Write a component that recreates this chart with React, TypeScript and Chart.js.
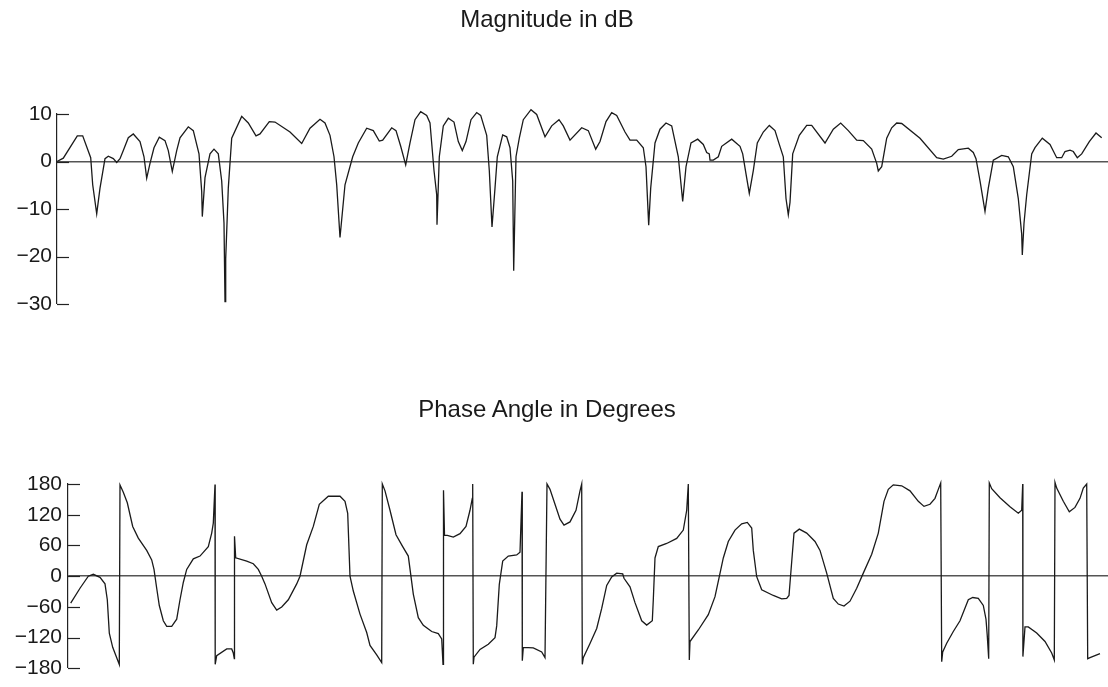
import React, { useEffect, useRef } from "react";
import { Chart, registerables } from "chart.js";

Chart.register(...registerables);

// Magnitude panel: frequency bin and level in dB
const magFreq = [
  0, 6.3, 20.3, 25.7, 33.7, 35.7, 39.7, 43, 48, 51.3, 56.3, 59.7, 63, 66.3, 71.3, 76.3, 83, 87, 89.7, 93,
  97, 102.3, 108, 111.3, 115.3, 119.7, 123, 131.3, 136.3, 142, 144.7, 145.3, 148, 153, 157, 161.3, 164.7, 167, 168, 168.7,
  171.3, 174.7, 184.7, 191.3, 199, 203, 212.3, 218, 233, 244.7, 253, 263, 268, 273, 277, 279.7, 283, 288, 295.7, 301.3,
  309.7, 316.3, 322.3, 325.7, 334.7, 339, 343.7, 348.7, 353, 358, 363.7, 369.7, 373, 377, 379.7, 380, 382.3, 386.3, 391.3, 397,
  401.3, 405.3, 409, 414, 419.7, 423.7, 429.7, 432.3, 435, 438, 440.3, 445.7, 449.7, 453, 455.7, 456.7, 459, 462.3, 466.3, 474,
  479.7, 488, 494.7, 502, 506.3, 513, 524.7, 531.3, 538.7, 543, 549, 554.7, 559.7, 568, 573, 579.7, 586.3, 589, 591.7, 593.7,
  598, 603, 609, 614.7, 621.3, 625.7, 629, 634, 640.7, 646.3, 649.7, 652.3, 653, 656.3, 661.3, 664.7, 674.7, 683, 685.7, 689,
  692.3, 696.3, 700.3, 706.3, 712.3, 718, 722.3, 726.3, 729, 731.3, 733, 735.7, 742.3, 749.7, 754.7, 768, 776.3, 783.7, 791.3, 799.7,
  806.3, 814.7, 819.7, 821.3, 824.7, 829.7, 834.7, 839.7, 844.7, 863, 879.7, 886.3, 894.7, 901.3, 911.3, 916.3, 919, 923, 928, 931.3,
  936.3, 944.7, 951.3, 956.3, 961.3, 964.7, 965.3, 967, 969.7, 974.7, 978, 985.3, 993, 999.7, 1004.7, 1008, 1013, 1016.3, 1020.3, 1024.7,
  1032.3, 1039, 1044.7,
];
const magDb = [
  0, 0.7, 5.4, 5.4, 0.8, -4.9, -11, -5.6, 0.6, 1.1, 0.6, -0.2, 0.6, 2.3, 5, 5.8, 4.2, 1, -3.5, -0.4,
  2.9, 5.1, 4.4, 2.3, -2.1, 2.3, 5, 7.3, 6.5, 1.6, -6.3, -11.6, -3.4, 1.6, 2.6, 1.6, -4.1, -13, -29.5, -20.5,
  -5.6, 4.9, 9.5, 8.1, 5.4, 5.8, 8.4, 8.3, 6.2, 3.8, 7, 8.9, 8.1, 5.5, 1, -4.9, -16, -4.9, 1, 3.9,
  7, 6.5, 4.3, 4.5, 7.1, 6.5, 3.2, -0.7, 3.9, 8.8, 10.5, 9.7, 8.1, -1.9, -7, -13.3, 1, 7.5, 9.1, 8.3,
  4.2, 2.3, 4.2, 8.8, 10.3, 9.7, 5.5, -1.9, -13.8, -5.6, 1, 5.6, 5.2, 2.9, -4.1, -23, 1, 4.9, 8.8, 10.9,
  9.9, 5.2, 7.5, 8.8, 7.5, 4.5, 7.1, 6.5, 2.6, 4.2, 8.4, 10.3, 9.7, 6.2, 4.5, 4.5, 2.9, -1.1, -13.4, -5.6,
  3.9, 6.8, 8.1, 7.5, 1, -8.4, -1.1, 3.9, 4.7, 3.6, 1.9, 1.6, 0.3, 0.3, 1, 3.2, 4.7, 3.2, 1.6, -2.6,
  -6.7, -1.9, 3.9, 6.2, 7.6, 6.5, 3.6, 1, -7.8, -11.2, -8.6, 1.6, 5.5, 7.6, 7.6, 3.9, 6.8, 8.1, 6.5, 4.5,
  4.4, 2.6, -0.4, -2, -1.1, 4.9, 7.1, 8.1, 8, 4.9, 0.8, 0.5, 1.1, 2.5, 2.8, 1.9, 0.6, -4.1, -10.5, -5.6,
  0.3, 1.3, 1, -1.1, -7.8, -15.3, -19.7, -13, -7, 1.6, 2.9, 4.9, 3.6, 0.8, 0.8, 2.1, 2.4, 2.1, 0.8, 1.6,
  4.2, 6, 5,
];
const magTicks = [10, 0, -10, -20, -30];

// Phase panel: frequency bin and phase angle in degrees
const phaseFreq = [
  2.7, 12, 20.3, 25.3, 32, 37, 39.3, 41.3, 44.7, 51.3, 52, 55.3, 59.3, 64.7, 70.3, 78.7, 83.7, 86, 88.7, 91.3,
  95.3, 98.7, 103.7, 108.7, 112, 115.3, 118.7, 125.3, 132, 140.3, 143.7, 145.3, 147, 147.2, 148.7, 158.7, 163.7, 165.3, 166.3, 166.5,
  167.7, 178.7, 185.3, 190.3, 193.7, 197, 203.7, 208.7, 213.7, 220.3, 228.7, 232, 238.7, 245.3, 251.3, 260.3, 272, 277, 279.7, 282,
  285.3, 292, 298.7, 302, 308.7, 313.7, 314.3, 317, 322, 328, 334.7, 340.3, 345.3, 350.3, 355.3, 363.7, 370.3, 373.7, 375, 375.5,
  376.5, 379.3, 385.3, 392, 398, 402, 404.3, 404.7, 405.3, 406, 412, 420.3, 427, 428.7, 431.3, 434.7, 440.3, 448.7, 452, 454,
  454.3, 455.3, 465.3, 473.7, 477, 479, 482, 487, 492, 496, 502, 508, 512, 513.7, 514.3, 515.3, 522, 528.7, 533.7, 538.7,
  543.7, 548.7, 554.7, 556, 562, 567, 573.7, 578.7, 584.3, 585.3, 587, 590.3, 598.7, 608.7, 615.3, 618.7, 620.3, 621.3, 622, 630.3,
  640.3, 647, 651.3, 655.3, 660.3, 667, 673.7, 679.3, 683.7, 685.3, 688.7, 693.7, 705.3, 713.7, 718.7, 721, 723.7, 726, 731.3, 738.7,
  747, 752, 758.7, 765.3, 770.3, 776, 782, 788.7, 795.3, 803.7, 810.3, 816, 820.3, 825.3, 833.7, 842, 850.3, 856, 862, 867,
  870.3, 872.7, 873.7, 874.7, 878.7, 885.3, 892, 900.3, 904.7, 910.3, 915.3, 918, 919.3, 920.7, 921.3, 923.7, 932, 942, 950.3, 953.7,
  954.7, 954.9, 957, 960.3, 968.7, 977, 983.7, 986.3, 987, 988.7, 995.3, 1001.3, 1007, 1012, 1015.3, 1018.7, 1019.7, 1022, 1032,
];
const phaseDeg = [
  -52.7, -23.5, 0, 3.7, -2.2, -15, -46, -111, -138.8, -172.5, 178, 163.7, 143.3, 97.2, 74.3, 50.4, 31.9, 13.3, -23.5, -57.2,
  -87, -97.8, -97.8, -84, -46, -12.3, 13.3, 34, 39.3, 57.8, 84.1, 103.7, 179, -172, -155, -142, -142, -150, -161, 78,
  36, 29.6, 24.4, 13.3, 0, -15, -51.6, -66, -60, -46, -15, 0, 61.3, 97.2, 140.4, 156.1, 156.1, 146.2, 122.9, 0,
  -29, -74, -110, -135, -153.8, -168.8, 180, 166.6, 128.7, 80.9, 57.8, 39.3, -34.8, -81, -96, -108, -112.2, -122.3, -172, 168,
  80, 79.6, 76.4, 83, 97.2, 128.7, 152, 180, -172, -158, -143, -133, -120, -97, -16, 29.6, 39.3, 41.5, 46.7, 165,
  -165, -139, -140, -147.8, -159, 180, 169.5, 140.4, 111.3, 99.8, 106, 128.7, 166.6, 180, -172, -159, -131.3, -102, -63, -18,
  -1.5, 5.9, 4.4, -4, -20.7, -51.6, -87, -95.4, -87, -46, 35.6, 57.8, 63.9, 73.7, 90, 128.7, 180, -163.5, -127.5, -105,
  -75, -40, -1, 35.6, 67.8, 90, 102.4, 105, 94, 50.4, -1, -26.4, -37.6, -44.3, -43.2, -37.6, 28.1, 84.1, 91.9, 84.1,
  67.8, 50.4, 6, -43.2, -54.4, -58.3, -48.8, -23.5, 6, 43, 84.1, 146.2, 169.5, 178.3, 176.5, 166.6, 146.2, 136.3, 140.4, 152,
  169.5, 182, -167, -147.8, -131, -108, -87, -46, -41.6, -43.2, -57, -84, -117, -161, 182, 170.7, 153.2, 135.7, 122.9, 128.7,
  180, -157, -99, -99, -111, -127.5, -150, -163.5, 183, 172, 146.2, 125.8, 134.3, 152, 172, 180, -161, -159, -151,
];
const phaseTicks = [180, 120, 60, 0, -60, -120, -180];

const FONT = "'Liberation Sans', Arial, Helvetica, sans-serif";

const innerTicks = {
  id: "innerTicks",
  afterDraw(chart: any) {
    const ys = chart.scales.y;
    const ctx = chart.ctx;
    const left = chart.chartArea.left;
    ctx.save();
    ctx.strokeStyle = "#222";
    ctx.lineWidth = 1.2;
    ys.ticks.forEach((t: any) => {
      const y = Math.round(ys.getPixelForValue(t.value)) + 0.5;
      ctx.beginPath();
      ctx.moveTo(left, y);
      ctx.lineTo(left + 12, y);
      ctx.stroke();
    });
    ctx.restore();
  },
};

function makeConfig(
  xs: number[],
  vals: number[],
  ticks: number[],
  xMax: number,
  axisWidth: number,
  padTop: number,
  padBottom: number,
  labelPad: number
): any {
  return {
    type: "line",
    data: {
      datasets: [
        {
          data: xs.map((x, i) => ({ x, y: vals[i] })),
          borderColor: "#1a1a1a",
          borderWidth: 1.3,
          pointRadius: 0,
          tension: 0,
          fill: false,
          clip: false,
        },
      ],
    },
    options: {
      animation: false,
      responsive: false,
      devicePixelRatio: 1,
      layout: { padding: { left: 0, right: 0, top: padTop, bottom: padBottom } },
      plugins: { legend: { display: false }, tooltip: { enabled: false }, title: { display: false } },
      scales: {
        x: { type: "linear", display: false, min: 0, max: xMax },
        y: {
          type: "linear",
          min: ticks[ticks.length - 1],
          max: ticks[0],
          afterBuildTicks: (scale: any) => {
            scale.ticks = ticks.map((v) => ({ value: v }));
          },
          afterFit: (scale: any) => {
            scale.width = axisWidth;
          },
          ticks: {
            padding: labelPad,
            color: "#1a1a1a",
            font: { family: FONT, size: 21 },
            callback: (v: any) => String(v).replace("-", "\u2212"),
          },
          grid: {
            drawTicks: false,
            color: (c: any) => (c.tick && c.tick.value === 0 ? "#555" : "rgba(0,0,0,0)"),
            lineWidth: (c: any) => (c.tick && c.tick.value === 0 ? 1.6 : 0),
          },
          border: { display: true, color: "#222", width: 1.2 },
        },
      },
    },
    plugins: [innerTicks],
  };
}

export default function App() {
  const topRef = useRef<HTMLCanvasElement>(null);
  const botRef = useRef<HTMLCanvasElement>(null);

  useEffect(() => {
    const c1 = new Chart(topRef.current as any, makeConfig(magFreq, magDb, magTicks, 1051, 57, 114, 39, 5));
    const c2 = new Chart(botRef.current as any, makeConfig(phaseFreq, phaseDeg, phaseTicks, 1040, 68, 141, 14, 6));
    return () => {
      c1.destroy();
      c2.destroy();
    };
  }, []);

  const titleStyle: React.CSSProperties = {
    position: "absolute",
    transform: "translateX(-50%)",
    fontFamily: FONT,
    fontSize: 24,
    color: "#1a1a1a",
    whiteSpace: "nowrap",
    lineHeight: "normal",
  };

  return (
    <div style={{ position: "absolute", left: 0, top: 0, width: 1108, height: 687, background: "#fff" }}>
      <canvas ref={topRef} width={1108} height={343} style={{ position: "absolute", left: 0, top: 0, display: "block" }} />
      <canvas ref={botRef} width={1108} height={344} style={{ position: "absolute", left: 0, top: 343, display: "block" }} />
      <div style={{ ...titleStyle, left: 547, top: 5 }}>Magnitude in dB</div>
      <div style={{ ...titleStyle, left: 547, top: 395 }}>Phase Angle in Degrees</div>
    </div>
  );
}
